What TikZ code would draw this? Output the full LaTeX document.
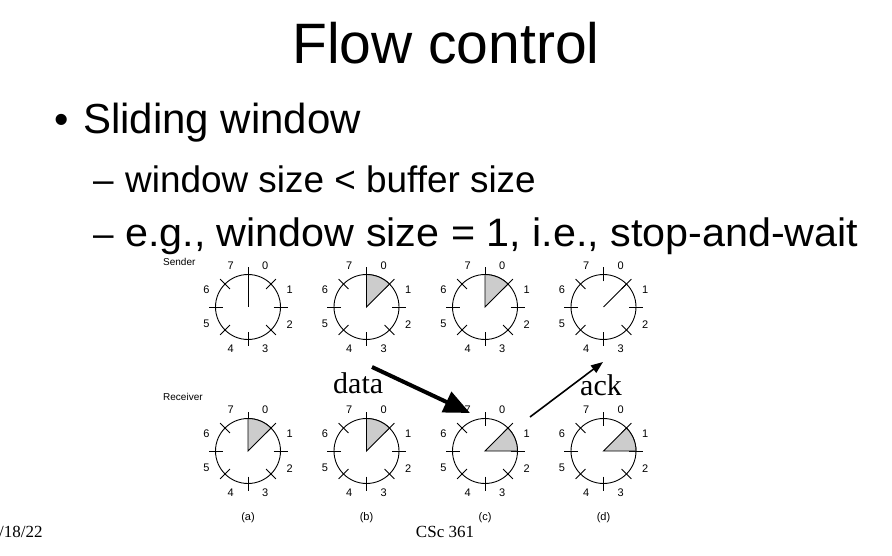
\documentclass[tikz,border=0pt]{standalone}
\usepackage{fontspec}
\setmainfont{Liberation Sans}
\newfontfamily\serifface{Liberation Serif}
\usetikzlibrary{arrows.meta}

\definecolor{wedgegray}{gray}{0.80}

\tikzset{
  dialline/.style={line width=0.9pt},
  dialtick/.style={line width=0.8pt},
  wedgeshape/.style={fill=wedgegray, draw=black, line width=0.9pt, line join=miter},
  digit/.style={font=\fontsize{11}{11}\selectfont, inner sep=0pt},
  sublabel/.style={font=\fontsize{11}{11}\selectfont, inner sep=0pt},
  rowlabel/.style={font=\fontsize{10}{10}\selectfont, inner sep=0pt, anchor=base west},
  slidetext/.style={inner sep=0pt, anchor=base west},
  bigserif/.style={font=\serifface\fontsize{30}{30}\selectfont, inner sep=0pt, anchor=base west},
  footer/.style={font=\serifface\fontsize{17}{17}\selectfont, inner sep=0pt},
  dataarrow/.style={line width=4pt, -{Triangle[length=26pt, width=22pt]}},
  ackarrow/.style={line width=1.6pt, -{Triangle[length=12pt, width=9pt]}},
}

% One dial: circle, eight radial ticks and the sequence numbers 0..7
\newcommand{\DialFace}[3]{%
  \coordinate (#1) at (#2,#3);
  \draw[dialline] (#1) circle[radius=32.5];
  \foreach \a in {0,45,...,315}
    \draw[dialtick] ([shift={(\a:25.5)}]#1) -- ([shift={(\a:39.5)}]#1);
  \foreach \k in {0,...,7}
    \node[digit] at ([shift={({67.5-45*\k}:45)}]#1) {\k};
}
% Shaded window sector between two angles
\newcommand{\DialSector}[3]{%
  \filldraw[wedgeshape] (#1) -- ([shift={(#2:32.5)}]#1)
    arc[start angle=#2, end angle=#3, radius=32.5] -- cycle;
}

\begin{document}
\begin{tikzpicture}[x=1pt, y=1pt]
  \useasboundingbox (0,0) rectangle (892,555);
  \clip (0,0) rectangle (892,555);

  % slide text
  \node[inner sep=0pt, anchor=base] (title) at (446,491)
    {\fontsize{57}{57}\selectfont Flow control};
  \node[slidetext] (bullet) at (54,421) {\fontsize{41}{41}\selectfont •};
  \node[slidetext] (point) at (83,421) {\fontsize{42}{42}\selectfont Sliding window};
  \node[slidetext] (dashone) at (93,362) {\fontsize{36.9}{36.9}\selectfont –};
  \node[slidetext] (subone) at (125,362)
    {\fontsize{36.9}{36.9}\selectfont window size < buffer size};
  \node[slidetext] (dashtwo) at (93,308) {\fontsize{36.9}{36.9}\selectfont –};
  \node[slidetext] (subtwo) at (125,308)
    {\scalebox{1.04}[1]{\fontsize{39.7}{39.7}\selectfont e.g., window size = 1, i.e., stop-and-wait}};

  % row labels
  \node[rowlabel] (sender) at (163,289) {Sender};
  \node[rowlabel] (receiver) at (163,155) {Receiver};

  % sender dials
  \DialFace{sa}{248}{248}
  \DialFace{sb}{366.5}{248}
  \DialFace{sc}{485}{248}
  \DialFace{sd}{603.5}{248}
  \draw[dialline] (sa) -- ([shift={(90:32.5)}]sa);
  \DialSector{sb}{90}{45}
  \DialSector{sc}{90}{45}
  \draw[dialline] (sd) -- ([shift={(45:32.5)}]sd);

  % receiver dials
  \DialFace{ra}{248}{104}
  \DialFace{rb}{366.5}{104}
  \DialFace{rc}{485}{104}
  \DialFace{rd}{603.5}{104}
  \DialSector{ra}{90}{45}
  \DialSector{rb}{90}{45}
  \DialSector{rc}{45}{0}
  \DialSector{rd}{45}{0}

  % column captions
  \node[sublabel] (capa) at (248,37) {(a)};
  \node[sublabel] (capb) at (366.5,37) {(b)};
  \node[sublabel] (capc) at (485,37) {(c)};
  \node[sublabel] (capd) at (603.5,37) {(d)};

  % data and ack messages
  \node[bigserif] (data) at (333,162) {data};
  \node[bigserif] (ack) at (580,160) {ack};
  \coordinate (datatail) at (372,188);
  \coordinate (datahead) at (470,142);
  \coordinate (acktail) at (530,138);
  \coordinate (ackhead) at (603,193);
  \draw[dataarrow] (datatail) -- (datahead);
  \draw[ackarrow] (acktail) -- (ackhead);

  % footer
  \node[footer, anchor=base] (course) at (445,18) {CSc 361};
  \node[footer, anchor=base west] (date) at (-1,18) {/18/22};
\end{tikzpicture}
\end{document}
